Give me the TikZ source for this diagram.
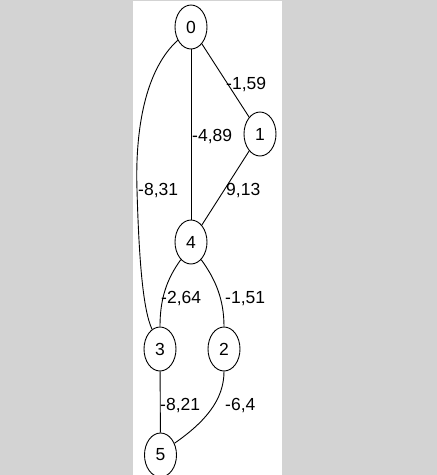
\documentclass[tikz,border=0pt]{standalone}
\usepackage{fontspec}
\setmainfont{Liberation Sans}
\usetikzlibrary{shapes.geometric}
\definecolor{bggrey}{RGB}{211,211,211}
\begin{document}
\begin{tikzpicture}[x=1pt,y=-1pt,
  vnode/.style={draw=black,line width=0.9pt,ellipse,minimum width=32pt,minimum height=44pt,inner sep=0pt,font=\fontsize{17.5}{20}\selectfont},
  elabel/.style={anchor=west,inner sep=0pt,font=\fontsize{17.5}{20}\selectfont},
  edge/.style={draw=black,line width=0.9pt}]
\useasboundingbox (0,0) rectangle (437,475);
\fill[bggrey] (0,0) rectangle (437,475);
\fill[white] (133,1) rectangle (282,475);
\node[vnode] (n0) at (191,27) {0};
\node[vnode] (n1) at (260,134) {1};
\node[vnode] (n4) at (191,242) {4};
\node[vnode] (n3) at (160,349) {3};
\node[vnode] (n2) at (224,349) {2};
\node[vnode] (n5) at (160.5,455) {5};
\coordinate (m03) at (137,190);
\draw[edge] (n0) -- (n1);
\draw[edge] (n0) -- (n4);
\draw[edge] (n1) -- (n4);
\draw[edge] (n0.225) .. controls (145,70) and (135,130) .. (m03) .. controls (139,260) and (143,310) .. (n3.112);
\draw[edge] (n4.240) .. controls (166,280) and (160,300) .. (n3.north);
\draw[edge] (n4.300) .. controls (216,280) and (224,300) .. (n2.north);
\draw[edge] (n3) -- (n5);
\draw[edge] (n2.south) .. controls (224,400) and (205,422) .. (n5.40);
\node[elabel] (l01) at (226,85) {-1,59};
\node[elabel] (l04) at (192,137) {-4,89};
\node[elabel] (l14) at (226,191) {9,13};
\node[elabel] (l03) at (138,191) {-8,31};
\node[elabel] (l43) at (161,299) {-2,64};
\node[elabel] (l42) at (225,299) {-1,51};
\node[elabel] (l35) at (160,406) {-8,21};
\node[elabel] (l25) at (225,406) {-6,4};
\end{tikzpicture}
\end{document}
